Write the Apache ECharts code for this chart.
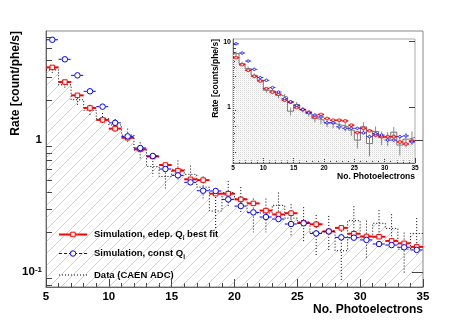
<!DOCTYPE html>
<html><head><meta charset="utf-8">
<script src="https://cdn.jsdelivr.net/npm/echarts@6/dist/echarts.min.js"></script>
<style>html,body{margin:0;padding:0;background:#fff}#c{width:471px;height:322px}</style>
</head><body><div id="c"></div>
<script>
// ---------- data ----------
const binEdges = [5,6,7,8,9,10,11,12,13,14,15,16,17,18,19,20,21,22,23,24,25,26,27,28,29,30,31,32,33,34,35];
const mainRed = [3.55,2.75,2.18,1.75,1.42,1.22,1.04,0.85,0.75,0.647,0.586,0.504,0.497,0.392,0.392,0.355,0.331,0.292,0.273,0.279,0.236,0.23,0.203,0.216,0.195,0.186,0.185,0.172,0.165,0.155];
const mainBlue = [5.75,4.09,3.09,2.34,1.79,1.35,1.066,0.87,0.757,0.603,0.54,0.478,0.413,0.411,0.355,0.316,0.283,0.261,0.252,0.231,0.234,0.196,0.203,0.183,0.182,0.175,0.163,0.160,0.154,0.147];
const mainData = [3.4,2.62,2.02,1.68,1.45,1.3,1.09,0.84,0.63,0.53,0.60,0.55,0.44,0.29,0.40,0.36,0.28,0.28,0.32,0.256,0.24,0.20,0.206,0.145,0.245,0.185,0.234,0.214,0.149,0.196];
const mainDataErr = [0.25,0.2,0.18,0.17,0.15,0.14,0.13,0.12,0.10,0.10,0.10,0.09,0.09,0.08,0.09,0.08,0.08,0.08,0.08,0.07,0.07,0.07,0.06,0.06,0.07,0.06,0.06,0.06,0.05,0.06];
const insetRed = [5.69,4.45,3.64,2.94,2.5,1.91,1.69,1.56,1.27,1.18,0.98,0.91,0.83,0.70,0.765,0.665,0.625,0.625,0.61,0.525,0.405,0.47,0.43,0.37,0.35,0.35,0.35,0.29,0.27,0.30];
const insetBlue = [9.3,6.7,5.05,3.77,2.81,2.56,1.98,1.69,1.34,1.2,1.05,0.91,0.81,0.75,0.70,0.57,0.57,0.495,0.47,0.47,0.47,0.40,0.35,0.39,0.37,0.31,0.31,0.35,0.36,0.29];
const insetData = [6.56,4.6,3.86,3.05,2.56,1.8,1.75,1.51,1.42,0.86,1.09,0.91,0.79,0.66,0.63,0.57,0.55,0.525,0.5,0.44,0.31,0.495,0.275,0.42,0.34,0.33,0.41,0.26,0.32,0.34];
const insetDataErr = [0.5,0.35,0.3,0.22,0.2,0.15,0.15,0.14,0.15,0.12,0.1,0.09,0.08,0.08,0.09,0.08,0.08,0.08,0.08,0.08,0.08,0.09,0.1,0.08,0.08,0.08,0.08,0.08,0.08,0.08];
const xTickLabels = [5,10,15,20,25,30,35];
const mainYMajor = [0.1, 1];
const mainYMinor = [0.08,0.09,0.2,0.3,0.4,0.5,0.6,0.7,0.8,0.9,2,3,4,5,6];
const insetYMajor = [1, 10];
const insetYMinor = [0.2,0.3,0.4,0.5,0.6,0.7,0.8,0.9,2,3,4,5,6,7,8,9];
const legendNames = ['Simulation, edep. Q{sub|i} best fit', 'Simulation, const Q{sub|i}', 'Data (CAEN ADC)'];

// ---------- layout ----------
const FONT = "'Liberation Sans', Arial, sans-serif";
const M = {l:46, t:31, r:423, b:287};
const I = {l:233, t:39, r:415, b:163};

function hatch(sp, color) {
  const c = document.createElement('canvas'); c.width = sp; c.height = sp;
  const g = c.getContext('2d'); g.strokeStyle = color; g.lineWidth = 0.8;
  g.beginPath();
  g.moveTo(0, sp); g.lineTo(sp, 0);
  g.moveTo(-2, 2); g.lineTo(2, -2);
  g.moveTo(sp-2, sp+2); g.lineTo(sp+2, sp-2);
  g.stroke();
  return c;
}
function stipple() {
  const c = document.createElement('canvas'); c.width = 2; c.height = 2;
  const g = c.getContext('2d');
  g.fillStyle = '#d8d8d8'; g.fillRect(0,0,1,1);
  g.fillStyle = '#f0f0f0'; g.fillRect(1,1,1,1);
  return c;
}

const binsOf = arr => arr.map((v,i)=>[binEdges[i], binEdges[i+1], v]);
const errOf = (arr, err) => arr.map((v,i)=>[binEdges[i], binEdges[i+1], v, err[i]]);
const stepOf = arr => binEdges.map((e,i)=>[e, arr[Math.min(i, arr.length-1)]]);

function barRender(color, lw, dash, marker, ms, mlw) {
  return function(params, api) {
    const lo = api.value(0), hi = api.value(1), v = api.value(2);
    const a = api.coord([lo, v]), b = api.coord([hi, v]);
    const cx = (a[0]+b[0])/2, cy = a[1], h = ms/2;
    const ls = {stroke: color, lineWidth: lw, lineDash: dash};
    const ch = [
      {type:'line', shape:{x1:a[0], y1:cy, x2:cx-h, y2:cy}, style:ls},
      {type:'line', shape:{x1:cx+h, y1:cy, x2:b[0], y2:cy}, style:ls}
    ];
    if (marker === 'rect') ch.push({type:'rect', shape:{x:cx-h, y:cy-h, width:ms, height:ms}, style:{fill:'#fff', stroke:color, lineWidth:mlw}});
    else ch.push({type:'circle', shape:{cx:cx, cy:cy, r:h}, style:{fill:'#fff', stroke:color, lineWidth:mlw}});
    return {type:'group', children: ch};
  };
}
function errRender(color, lw, dash) {
  return function(params, api) {
    const x = (api.value(0)+api.value(1))/2, v = api.value(2), e = api.value(3);
    const p1 = api.coord([x, v+e]), p2 = api.coord([x, v-e]);
    return {type:'line', shape:{x1:p1[0], y1:p1[1], x2:p2[0], y2:p2[1]}, style:{stroke:color, lineWidth:lw, lineDash:dash}};
  };
}

const chart = echarts.init(document.getElementById('c'), null, {renderer:'canvas'});

function xAxisDef(grid, fs, tl, mtl, margin) {
  return {gridIndex: grid, type:'value', min:5, max:35, interval:5,
    axisLine:{show:true, lineStyle:{color:'#666', width:1}},
    axisTick:{show:true, inside:true, length:tl, lineStyle:{color:'#444'}},
    minorTick:{show:true, splitNumber:5, length:mtl, lineStyle:{color:'#444'}},
    splitLine:{show:false},
    axisLabel:{show:true, fontSize:fs, fontWeight:'bold', color:'#000', fontFamily:FONT, margin:margin,
      customValues: xTickLabels}
  };
}
function yAxisDef(grid, min, max, ticks, tl, labels, fs, margin, fmt, rich) {
  return {gridIndex: grid, type:'log', logBase:10, min:min, max:max,
    axisLine:{show: labels, lineStyle:{color:'#666', width:1}},
    axisTick:{show:true, inside:true, length:tl, customValues: ticks, lineStyle:{color:'#444'}},
    splitLine:{show:false}, minorTick:{show:false},
    axisLabel:{show: labels, customValues: labels ? (grid===0?mainYMajor:insetYMajor) : undefined,
      fontSize:fs, fontWeight:'bold', color:'#000', fontFamily:FONT, margin:margin, formatter: fmt, rich: rich}
  };
}

const supRich = {sup:{fontSize:8, fontWeight:'bold', fontFamily:FONT, color:'#000', verticalAlign:'top', padding:[0,0,5,0]}};

const option = {
  animation:false,
  backgroundColor:'#fff',
  grid:[
    {left:M.l, top:M.t, width:M.r-M.l, height:M.b-M.t, show:true, borderColor:'#888', borderWidth:1, backgroundColor:'transparent'},
    {left:I.l, top:I.t, width:I.r-I.l, height:I.b-I.t, show:true, borderColor:'#aaa', borderWidth:1, backgroundColor:'#fff'}
  ],
  xAxis:[ xAxisDef(0, 11.5, 8, 4, 4), xAxisDef(1, 6.5, 5, 2.5, 2) ],
  yAxis:[
    yAxisDef(0, 0.077, 6.7, mainYMinor, 6, true, 11.5, 4, v => (v < 0.5 ? '10{sup|-1}' : '1'), supRich),
    yAxisDef(0, 0.077, 6.7, mainYMajor, 11, false),
    yAxisDef(1, 0.138, 11, insetYMinor, 3, true, 7, 2, v => (v > 5 ? '10' : '1')),
    yAxisDef(1, 0.138, 11, insetYMajor, 6, false)
  ],
  series:[
    // main plot
    {type:'line', name:'Data (CAEN ADC)', xAxisIndex:0, yAxisIndex:0, step:'end', symbol:'none', data: stepOf(mainData),
      lineStyle:{color:'#000', width:1, type:[1,2]},
      areaStyle:{origin:'start', color:{image: hatch(12, 'rgba(150,150,150,0.55)'), repeat:'repeat'}, opacity:1}, z:2},
    {type:'custom', name:'data err', xAxisIndex:0, yAxisIndex:0, data: errOf(mainData, mainDataErr),
      encode:{x:[0,1], y:2}, renderItem: errRender('#000', 1, [1,2]), z:3},
    {type:'custom', name:'Simulation, edep. Q best fit', xAxisIndex:0, yAxisIndex:0, data: binsOf(mainRed),
      encode:{x:[0,1], y:2}, renderItem: barRender('#ff0000', 2, null, 'rect', 4.5, 1), z:4},
    {type:'custom', name:'Simulation, const Q', xAxisIndex:0, yAxisIndex:0, data: binsOf(mainBlue),
      encode:{x:[0,1], y:2}, renderItem: barRender('#0000ff', 1, [3,2], 'circle', 5.5, 1), z:5},
    // inset
    {type:'line', name:'inset data', xAxisIndex:1, yAxisIndex:2, step:'end', symbol:'none', data: stepOf(insetData),
      lineStyle:{color:'#555', width:0.8},
      areaStyle:{origin:'start', color:{image: stipple(), repeat:'repeat'}, opacity:1}, z:2},
    {type:'custom', name:'inset data err', xAxisIndex:1, yAxisIndex:2, data: errOf(insetData, insetDataErr),
      encode:{x:[0,1], y:2}, renderItem: errRender('#888', 1, null), z:3},
    {type:'custom', name:'inset red', xAxisIndex:1, yAxisIndex:2, data: binsOf(insetRed),
      encode:{x:[0,1], y:2}, renderItem: barRender('#ff0000', 1.5, null, 'rect', 2.5, 0.8), z:4},
    {type:'custom', name:'inset blue', xAxisIndex:1, yAxisIndex:2, data: binsOf(insetBlue),
      encode:{x:[0,1], y:2}, renderItem: barRender('#0000ff', 0.8, [2,1.5], 'circle', 2.5, 0.8), z:5}
  ],
  graphic:[
    {type:'text', x:16, y:M.t, rotation:Math.PI/2, style:{text:'Rate [count/phe/s]', font:"bold 12px "+FONT, fill:'#000', align:'right', verticalAlign:'middle'}},
    {type:'text', x:M.r, y:310, style:{text:'No. Photoelectrons', font:"bold 12px "+FONT, fill:'#000', align:'right', verticalAlign:'middle'}},
    {type:'text', x:216, y:I.t, rotation:Math.PI/2, style:{text:'Rate [counts/phe/s]', font:"bold 8.5px "+FONT, fill:'#000', align:'right', verticalAlign:'middle'}},
    {type:'text', x:I.r, y:177, style:{text:'No. Photoelectrons', font:"bold 8.5px "+FONT, fill:'#000', align:'right', verticalAlign:'middle'}},
    // legend
    {type:'group', children:[
      {type:'line', shape:{x1:59, y1:234.5, x2:70.7, y2:234.5}, style:{stroke:'#ff0000', lineWidth:2}},
      {type:'line', shape:{x1:75.3, y1:234.5, x2:87, y2:234.5}, style:{stroke:'#ff0000', lineWidth:2}},
      {type:'rect', shape:{x:70.7, y:232.2, width:4.5, height:4.5}, style:{fill:'#fff', stroke:'#ff0000', lineWidth:1}},
      {type:'text', x:94, y:234.5, style:{text:legendNames[0], font:"bold 9.5px "+FONT, fill:'#000', verticalAlign:'middle',
        rich:{sub:{fontSize:6.5, fontWeight:'bold', fontFamily:FONT, fill:'#000', verticalAlign:'bottom', padding:[7,0,0,0]}}}},
      {type:'line', shape:{x1:59, y1:253.5, x2:87, y2:253.5}, style:{stroke:'#0000ff', lineWidth:1, lineDash:[3,2]}},
      {type:'circle', shape:{cx:73, cy:253.5, r:2.75}, style:{fill:'#fff', stroke:'#0000ff', lineWidth:1}},
      {type:'text', x:94, y:253.5, style:{text:legendNames[1], font:"bold 9.5px "+FONT, fill:'#000', verticalAlign:'middle',
        rich:{sub:{fontSize:6.5, fontWeight:'bold', fontFamily:FONT, fill:'#000', verticalAlign:'bottom', padding:[7,0,0,0]}}}},
      {type:'line', shape:{x1:59, y1:275, x2:87, y2:275}, style:{stroke:'#000', lineWidth:1, lineDash:[1,2]}},
      {type:'text', x:94, y:275, style:{text:legendNames[2], font:"bold 9.5px "+FONT, fill:'#000', verticalAlign:'middle'}}
    ]}
  ]
};
chart.setOption(option);
</script>
</body></html>
